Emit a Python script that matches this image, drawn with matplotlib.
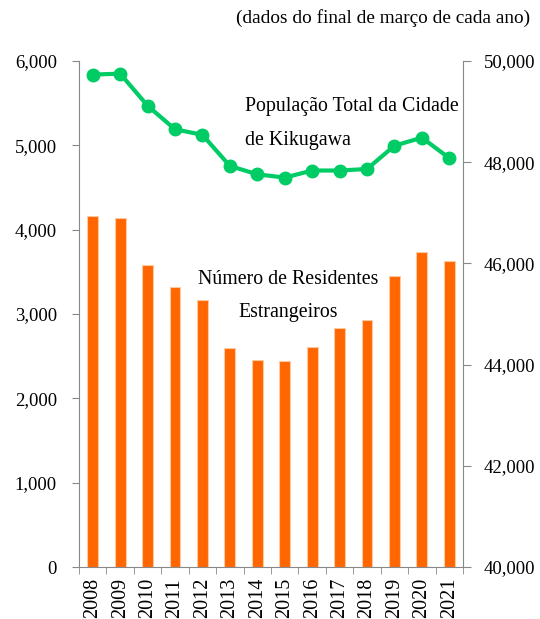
import numpy as np
import matplotlib.pyplot as plt

# dados
anos = ['2008', '2009', '2010', '2011', '2012', '2013', '2014',
        '2015', '2016', '2017', '2018', '2019', '2020', '2021']
estrangeiros = [4160, 4135, 3585, 3325, 3160, 2595, 2460,
                2440, 2610, 2835, 2925, 3445, 3730, 3625]
populacao = [49730, 49750, 49115, 48650, 48540, 47925, 47760,
             47695, 47835, 47835, 47865, 48325, 48485, 48080]

plt.rcParams['font.family'] = ['Liberation Serif', 'DejaVu Serif']
cinza = '#888888'

fig = plt.figure(figsize=(5.4, 6.19), dpi=100)
ax = fig.add_axes([0.1463, 0.084, 0.7111, 0.8175])
x = np.arange(len(anos))

ax.bar(x, estrangeiros, width=0.4, color='#FF6600', edgecolor='#FFC9A0', linewidth=0.8)
ax.set_xlim(-0.5, len(anos) - 0.5)
ax.set_ylim(0, 6000)
ax.set_yticks(range(0, 6001, 1000))
ax.set_yticklabels([f'{v:,}' for v in range(0, 6001, 1000)])

ax.set_xticks(x)
ax.set_xticklabels(anos, rotation=90)
ax.set_xticks(np.arange(-0.5, len(anos)), minor=True)
ax.tick_params(axis='x', which='major', length=0, pad=8, labelsize=14.5)
ax.tick_params(axis='x', which='minor', length=5, color=cinza, direction='out')
ax.tick_params(axis='y', length=5, color=cinza, labelsize=13.5, pad=11)

for s in ['top', 'right']:
    ax.spines[s].set_visible(False)
for s in ['left', 'bottom']:
    ax.spines[s].set_color(cinza)

ax2 = ax.twinx()
ax2.plot(x, populacao, color='#00CC66', linewidth=3, marker='o', markersize=9)
ax2.set_ylim(40000, 50000)
ax2.set_yticks(range(40000, 50001, 2000))
ax2.set_yticklabels([f'{v:,}' for v in range(40000, 50001, 2000)])
ax2.tick_params(axis='y', length=6, color=cinza, labelsize=13.5, pad=9)
for s in ['top', 'left', 'bottom']:
    ax2.spines[s].set_visible(False)
ax2.spines['right'].set_color(cinza)

fig.text(245 / 540, 1 - 107 / 619, 'População Total da Cidade', fontsize=14.3, va='center', ha='left')
fig.text(245 / 540, 1 - 141 / 619, 'de Kikugawa', fontsize=14.3, va='center', ha='left')
fig.text(288 / 540, 1 - 279 / 619, 'Número de Residentes', fontsize=14.3, va='center', ha='center')
fig.text(288 / 540, 1 - 313 / 619, 'Estrangeiros', fontsize=14.3, va='center', ha='center')
fig.text(530 / 540, 1 - 18 / 619, '(dados do final de março de cada ano)', fontsize=13.9, va='center', ha='right')

fig.savefig('out.png', dpi=100)
